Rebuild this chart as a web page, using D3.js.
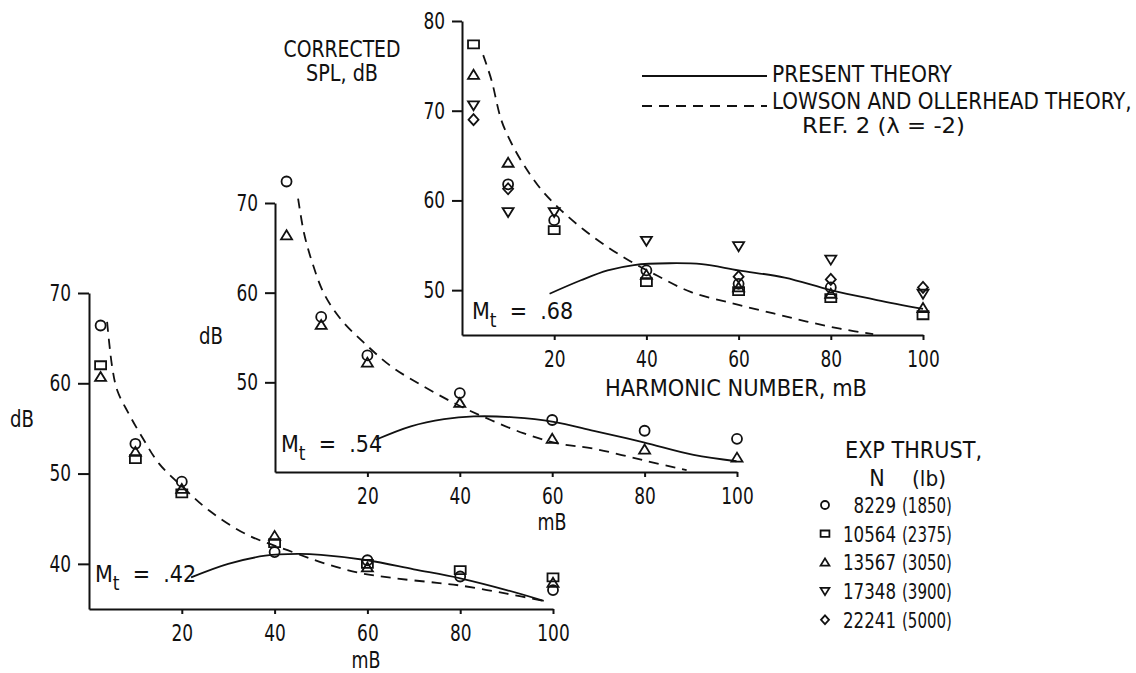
<!DOCTYPE html>
<html>
<head>
<meta charset="utf-8">
<script src="https://cdn.jsdelivr.net/npm/d3@7"></script>
<style>
  body { margin: 0; background: #fff; }
  svg text { font-family: "DejaVu Sans Condensed", "Liberation Sans Narrow", "Arial Narrow", sans-serif; fill: #111; }
</style>
</head>
<body>
<svg id="chart" width="1136" height="673"></svg>
<script>
// harmonic numbers where measurements were taken
const harmonics = [2.5, 10, 20, 40, 60, 80, 100];

// measured corrected SPL, dB (null = no point)
const circle42   = [66.4, 53.3, 49.1, 41.3, 40.4, 38.6, 37.1];
const square42   = [62.0, 51.6, 47.8, 42.3, 40.0, 39.3, 38.5];
const triangle42 = [60.7, 52.4, 48.3, 43.1, 39.6, null, 37.9];

const circle54   = [72.4, 57.3, 53.0, 48.8, 45.8, 44.6, 43.7];
const triangle54 = [66.4, 56.4, 52.2, 47.7, 43.7, 42.5, 41.6];

const circle68   = [null, 61.8, 57.8, 52.2, 50.7, 50.3, null];
const square68   = [77.4, null, 56.7, 50.9, 49.9, 49.1, 47.2];
const triangle68 = [74.0, 64.2, null, 51.7, 50.3, 49.6, 48.0];
const down68     = [70.6, 58.7, 58.7, 55.5, 54.9, 53.4, 49.6];
const diamond68  = [69.0, 61.3, null, null, 51.5, 51.2, 50.3];

// theory curves
const present42mB = [22, 30, 38, 45, 50, 60, 70, 80, 90, 98];
const present42dB = [38.5, 40.0, 40.9, 41.1, 41.0, 40.4, 39.4, 38.4, 37.1, 35.9];
const lowson42mB  = [3.9, 5.0, 6.1, 8.6, 11.5, 15.1, 20.2, 25.9, 33.8, 43.9, 51.1, 58.3, 66, 75, 80, 90, 98];
const lowson42dB  = [66.8, 61.8, 59.2, 56.6, 54.0, 51.1, 48.5, 45.9, 43.3, 41.3, 40.0, 39.0, 38.4, 37.9, 37.6, 36.7, 35.9];

const present54mB = [21.8, 29.4, 36.6, 43.0, 51.7, 60.3, 69.0, 79.8, 90.6, 99.9];
const present54dB = [43.6, 45.1, 45.9, 46.2, 46.1, 45.6, 44.6, 43.3, 41.9, 41.2];
const lowson54mB  = [5.0, 6.3, 8.1, 10.6, 14.3, 19.3, 25.1, 32.3, 39.5, 46.7, 53.9, 61.1, 69.0, 79.8, 89.1];
const lowson54dB  = [70.5, 66.6, 63.3, 59.9, 57.0, 54.4, 51.8, 49.5, 47.5, 45.8, 44.3, 43.2, 42.6, 41.3, 40.2];

const present68mB = [19, 25.8, 31.6, 37.3, 45, 52, 60, 70, 80, 90, 100];
const present68dB = [49.6, 51.1, 52.2, 52.8, 53.0, 52.9, 52.2, 51.4, 50.0, 48.9, 47.9];
const lowson68mB  = [4.6, 6.4, 8.5, 10.7, 13.6, 17.2, 21.5, 26.5, 31.6, 36.6, 42.4, 49.6, 58.9, 67.6, 74.8, 82.0, 89.2];
const lowson68dB  = [76.2, 73.4, 69.0, 66.4, 63.8, 61.2, 58.9, 56.7, 54.8, 53.2, 51.6, 49.8, 48.5, 47.4, 46.5, 45.7, 45.1];

const xTicks = [20, 40, 60, 80, 100];

const thrustN  = ["8229", "10564", "13567", "17348", "22241"];
const thrustLb = ["(1850)", "(2375)", "(3050)", "(3900)", "(5000)"];
const symbols  = ["circle", "square", "triangle", "down", "diamond"];

const svg = d3.select("#chart");
const fs = 23;

// marker shapes
function marker(kind, s) {
  s = s || 1;
  if (kind == "circle") return d3.arc()({innerRadius: 0, outerRadius: 5 * s, startAngle: 0, endAngle: 2 * Math.PI});
  if (kind == "square") {
    const w = 5.5 * s, h = 4 * s;
    return `M${-w},${-h}H${w}V${h}H${-w}Z`;
  }
  if (kind == "triangle") return `M0,${-5 * s}L${5.5 * s},${4 * s}L${-5.5 * s},${4 * s}Z`;
  if (kind == "down") return `M0,${5 * s}L${5.5 * s},${-4 * s}L${-5.5 * s},${-4 * s}Z`;
  if (kind == "diamond") return `M0,${-5.5 * s}L${5 * s},0L0,${5.5 * s}L${-5 * s},0Z`;
}

// digits in the original are narrow
function styleAxis(a) {
  a.selectAll("text")
    .style("font-size", fs + "px").attr("fill", "#111")
    .attr("textLength", d => String(d).length * 10.8)
    .attr("lengthAdjust", "spacingAndGlyphs");
  a.selectAll("line,path").attr("stroke", "#111").attr("stroke-width", 2);
}

function panel(p) {
  const x = d3.scaleLinear().domain([0, 100]).range(p.xr);
  const y = d3.scaleLinear().domain(p.yd).range(p.yr);
  const g = svg.append("g");

  g.append("g")
    .attr("transform", `translate(${p.xr[0]},0)`)
    .call(d3.axisLeft(y).tickValues(p.yTicks).tickSize(p.tick).tickSizeOuter(0).tickPadding(7))
    .call(styleAxis);

  g.append("g")
    .attr("transform", `translate(0,${p.yr[0]})`)
    .call(d3.axisBottom(x).tickValues(xTicks).tickSize(5).tickSizeOuter(0).tickPadding(11))
    .call(styleAxis);

  const line = d3.line().x(d => x(d[0])).y(d => y(d[1])).curve(d3.curveCatmullRom.alpha(0.5));

  g.append("path")
    .datum(d3.zip(p.pmB, p.pdB))
    .attr("d", line)
    .attr("fill", "none").attr("stroke", "#111").attr("stroke-width", 1.8);

  g.append("path")
    .datum(d3.zip(p.lmB, p.ldB))
    .attr("d", line)
    .attr("fill", "none").attr("stroke", "#111").attr("stroke-width", 1.8)
    .attr("stroke-dasharray", "10,7");

  p.series.forEach(s => {
    g.selectAll(null)
      .data(d3.zip(harmonics, s.v).filter(d => d[1] != null))
      .enter().append("path")
      .attr("transform", d => `translate(${x(d[0])},${y(d[1])})`)
      .attr("d", marker(s.kind))
      .attr("fill", "none").attr("stroke", "#111").attr("stroke-width", 1.8);
  });

  // M_t label
  const t = g.append("text").attr("x", p.mt[0]).attr("y", p.mt[1]).style("font-size", fs + "px");
  t.append("tspan").text("M");
  t.append("tspan").attr("dy", 8).style("font-size", "19px").text("t");
  t.append("tspan").attr("dy", -8).attr("xml:space", "preserve").text("  =  " + p.label);
}

panel({
  xr: [89, 553], yd: [35, 70], yr: [609, 293], yTicks: [40, 50, 60, 70], tick: 11,
  pmB: present42mB, pdB: present42dB, lmB: lowson42mB, ldB: lowson42dB,
  series: [{kind: "circle", v: circle42}, {kind: "square", v: square42}, {kind: "triangle", v: triangle42}],
  mt: [95, 582], label: ".42"
});
panel({
  xr: [275, 737], yd: [40, 70], yr: [472, 203], yTicks: [50, 60, 70], tick: 10,
  pmB: present54mB, pdB: present54dB, lmB: lowson54mB, ldB: lowson54dB,
  series: [{kind: "circle", v: circle54}, {kind: "triangle", v: triangle54}],
  mt: [281, 452], label: ".54"
});
panel({
  xr: [462, 923], yd: [45, 80], yr: [335, 21], yTicks: [50, 60, 70, 80], tick: 10,
  pmB: present68mB, pdB: present68dB, lmB: lowson68mB, ldB: lowson68dB,
  series: [{kind: "circle", v: circle68}, {kind: "square", v: square68}, {kind: "triangle", v: triangle68},
           {kind: "down", v: down68}, {kind: "diamond", v: diamond68}],
  mt: [472, 319], label: ".68"
});

// plain text labels; len squeezes to the width seen in the original
function label(txt, x, y, anchor, len, size) {
  const t = svg.append("text").attr("x", x).attr("y", y).attr("text-anchor", anchor || "start")
    .style("font-size", (size || fs) + "px").text(txt);
  if (len) t.attr("textLength", len).attr("lengthAdjust", "spacingAndGlyphs");
  return t;
}
label("CORRECTED", 342, 57, "middle", 117);
label("SPL, dB", 342, 81, "middle", 72);
label("dB", 211, 344, "middle", 24);
label("dB", 22, 427, "middle", 24);
label("mB", 366, 668, "middle", 29);
label("mB", 552, 530, "middle", 29);
label("HARMONIC NUMBER, mB", 736, 396, "middle", 262);

// line legend
svg.append("line").attr("x1", 642).attr("x2", 767).attr("y1", 76).attr("y2", 76)
  .attr("stroke", "#111").attr("stroke-width", 1.8);
svg.append("line").attr("x1", 642).attr("x2", 767).attr("y1", 106).attr("y2", 106)
  .attr("stroke", "#111").attr("stroke-width", 1.8).attr("stroke-dasharray", "10,7");
label("PRESENT THEORY", 772, 82, "start", 180);
label("LOWSON AND OLLERHEAD THEORY,", 772, 109, "start", null, 22.2);
label("REF. 2  (\u03bb  =  -2)", 802, 133, "start", 163, 21);

// symbol legend
label("EXP THRUST,", 845, 458, "start", 137);
label("N", 877, 486, "middle");
label("(lb)", 912, 486, "start", 34, 21);
thrustN.forEach((n, i) => {
  const yy = 505 + i * 28.7;
  svg.append("path").attr("transform", `translate(825,${yy})`)
    .attr("d", marker(symbols[i], 0.8))
    .attr("fill", "none").attr("stroke", "#111").attr("stroke-width", 1.8);
  label(n, 896, yy + 8, "end", n.length * 10.6, 22);
  label(thrustLb[i], 902, yy + 8, "start", 50, 21);
});
</script>
</body>
</html>
